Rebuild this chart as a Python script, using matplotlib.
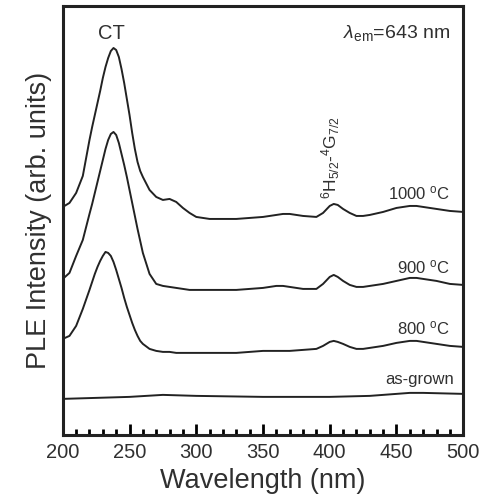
import numpy as np
import matplotlib.pyplot as plt

plt.rcParams['font.family'] = ['Liberation Sans', 'DejaVu Sans']
plt.rcParams['mathtext.fontset'] = 'custom'
plt.rcParams['mathtext.rm'] = 'Liberation Sans'
plt.rcParams['mathtext.it'] = 'Liberation Sans:italic'

# wavelength grid (nm)
wl = [200, 205, 210, 215, 220, 222, 224, 226, 228, 230, 232, 234, 236, 238,
      240, 242, 244, 246, 248, 250, 252, 254, 256, 258, 260, 265, 270, 275,
      280, 285, 290, 295, 300, 310, 320, 330, 340, 350, 360, 365, 370, 380,
      390, 395, 400, 403, 406, 410, 415, 420, 425, 430, 440, 450, 460, 465,
      470, 480, 490, 500]

# PLE intensities (arb. units, stacked as in the figure)
ple_1000 = [228, 232, 242, 259, 295, 308, 320, 332, 344, 357, 368, 377, 384, 387,
            385, 378, 366, 352, 336, 320, 302, 286, 273, 264, 258, 245, 238, 235,
            236, 233, 227, 222, 218, 216, 216, 216, 217, 218, 220, 221, 221, 219,
            218, 222, 229, 231, 230, 226, 222, 219, 219, 220, 223, 227, 229, 229,
            228, 226, 224, 223]
ple_900 = [156, 162, 179, 195, 221, 231, 242, 253, 264, 275, 286, 295, 301, 303,
           300, 292, 281, 270, 258, 245, 232, 219, 206, 194, 182, 161, 151, 149,
           148, 147, 146, 145, 145, 145, 145, 145, 146, 147, 149, 149, 148, 146,
           146, 151, 158, 160, 158, 154, 150, 148, 148, 149, 151, 154, 157, 157,
           156, 154, 151, 150]
ple_800 = [96, 99, 109, 126, 145, 153, 161, 168, 174, 179, 183, 182, 179, 173,
           165, 156, 147, 137, 128, 120, 112, 105, 99, 94, 91, 86, 84, 83,
           83, 82, 82, 82, 82, 82, 82, 82, 83, 84, 84, 84, 84, 85,
           86, 89, 93, 94, 93, 91, 88, 86, 86, 87, 89, 92, 94, 94,
           93, 91, 89, 88]
wl_asgrown = [200, 225, 250, 275, 300, 350, 400, 430, 460, 470, 500]
ple_asgrown = [36, 37, 38, 40, 39, 38, 38, 39, 42, 42, 41]

txt = '#303030'

fig = plt.figure(figsize=(4.83, 5.01), dpi=100)
ax = fig.add_axes([0.130, 0.132, 0.829, 0.856])

for y in (ple_1000, ple_900, ple_800):
    ax.plot(wl, y, color='#222222', lw=1.4)
ax.plot(wl_asgrown, ple_asgrown, color='#222222', lw=1.4)

ax.set_xlim(200, 500)
ax.set_ylim(0, 429)
ax.set_xticks(np.arange(200, 501, 50))
ax.set_xticks(np.arange(200, 501, 10), minor=True)
ax.set_yticks([])
ax.tick_params(axis='x', which='major', direction='in', length=8, width=2,
               labelsize=14.5, labelcolor=txt, pad=6)
ax.tick_params(axis='x', which='minor', direction='in', length=4, width=2)
for s in ax.spines.values():
    s.set_linewidth(2.2)
    s.set_color('#222222')

ax.set_xlabel('Wavelength (nm)', fontsize=19.5, color=txt, labelpad=4)
ax.set_ylabel('PLE Intensity (arb. units)', fontsize=19.5, color=txt, labelpad=8)

ax.text(236.5, 402, 'CT', fontsize=14.5, color=txt, ha='center', va='center')
ax.text(490, 402, r'$\lambda_{\rm em}$=643 nm', fontsize=14, color=txt,
        ha='right', va='center')
ax.text(401, 236, r'$^6$H$_{5/2}$-$^4$G$_{7/2}$', fontsize=12.5, color=txt,
        rotation=90, ha='center', va='bottom')
ax.text(490, 242, r'1000 $^{\rm o}$C', fontsize=12, color=txt, ha='right', va='center')
ax.text(490, 168, r'900 $^{\rm o}$C', fontsize=12, color=txt, ha='right', va='center')
ax.text(490, 107, r'800 $^{\rm o}$C', fontsize=12, color=txt, ha='right', va='center')
ax.text(493, 55, 'as-grown', fontsize=12, color=txt, ha='right', va='center')

fig.savefig('out.png', dpi=100)
